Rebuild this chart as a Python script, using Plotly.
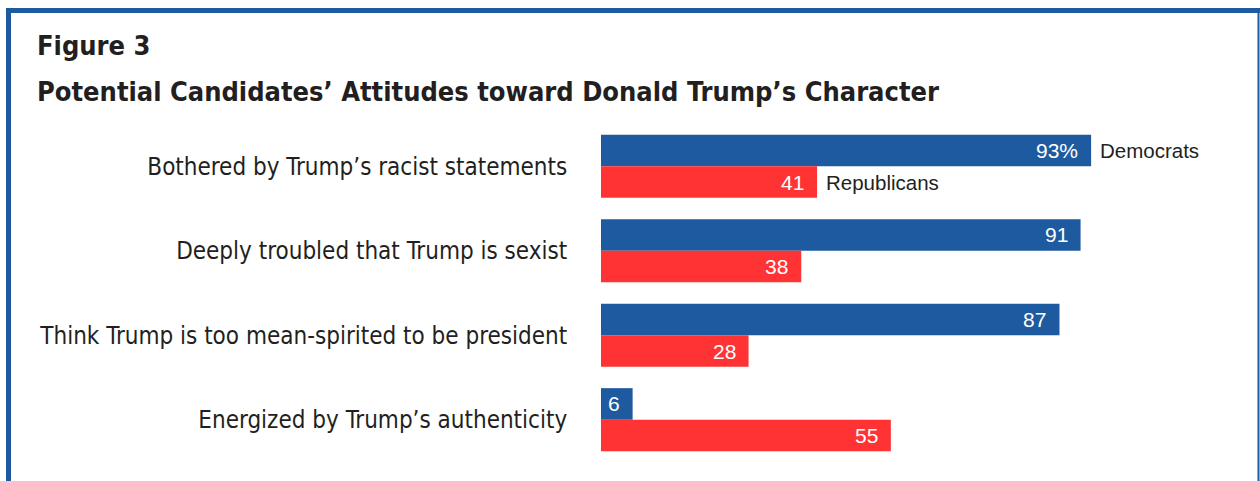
import plotly.graph_objects as go

# Survey items and shares (%) by party
categories = [
    "Bothered by Trump’s racist statements",
    "Deeply troubled that Trump is sexist",
    "Think Trump is too mean-spirited to be president",
    "Energized by Trump’s authenticity",
]
democrats = [93, 91, 87, 6]
republicans = [41, 38, 28, 55]
dem_labels = ["93%", "91", "87", "6"]
rep_labels = ["41", "38", "28", "55"]

title_line1 = "Figure 3"
title_line2 = "Potential Candidates’ Attitudes toward Donald Trump’s Character"

BLUE = "#1E5AA0"
RED = "#FF3333"
TEXT = "#231F20"
FONT = "Liberation Sans, Arial, sans-serif"
COND_FONT = "DejaVu Sans Condensed, DejaVu Sans, sans-serif"

W, H = 1260, 481
ML, MR, MT, MB = 601, 132, 124, 19
PW, PH = W - ML - MR, H - MT - MB


def px_x(p):
    return (p - ML) / PW


def px_y(p):
    return (H - MB - p) / PH


fig = go.Figure()
fig.add_trace(go.Bar(y=categories, x=democrats, orientation="h", name="Democrats",
                     marker=dict(color=BLUE, line=dict(width=0)), hoverinfo="skip"))
fig.add_trace(go.Bar(y=categories, x=republicans, orientation="h", name="Republicans",
                     marker=dict(color=RED, line=dict(width=0)), hoverinfo="skip"))

half = PH / len(categories) * (1 - 0.252) / 4

annotations = []
for cat, v, lab in zip(categories, democrats, dem_labels):
    annotations.append(dict(x=v, y=cat, xref="x", yref="y", text=lab, showarrow=False,
                            xanchor="right", yanchor="middle", xshift=-11, yshift=half,
                            font=dict(family=FONT, size=21, color="white")))
for cat, v, lab in zip(categories, republicans, rep_labels):
    annotations.append(dict(x=v, y=cat, xref="x", yref="y", text=lab, showarrow=False,
                            xanchor="right", yanchor="middle", xshift=-11, yshift=-half,
                            font=dict(family=FONT, size=21, color="white")))

# Series names beside the first pair of bars
annotations.append(dict(x=democrats[0], y=categories[0], xref="x", yref="y", text="Democrats",
                        showarrow=False, xanchor="left", yanchor="middle", xshift=7, yshift=half,
                        font=dict(family=FONT, size=20.5, color=TEXT)))
annotations.append(dict(x=republicans[0], y=categories[0], xref="x", yref="y", text="Republicans",
                        showarrow=False, xanchor="left", yanchor="middle", xshift=7, yshift=-half,
                        font=dict(family=FONT, size=20.5, color=TEXT)))

# Heading
annotations.append(dict(x=px_x(35), y=px_y(45), xref="paper", yref="paper", text=f"<b>{title_line1}</b>",
                        showarrow=False, xanchor="left", yanchor="middle",
                        font=dict(family=COND_FONT, size=27, color=TEXT)))
annotations.append(dict(x=px_x(35), y=px_y(91), xref="paper", yref="paper", text=f"<b>{title_line2}</b>",
                        showarrow=False, xanchor="left", yanchor="middle",
                        font=dict(family=COND_FONT, size=27, color=TEXT)))

# Frame: thick top and left rules, thin right rule
shapes = [
    dict(type="line", xref="paper", yref="paper", x0=px_x(6), x1=px_x(W + 5),
         y0=px_y(10.5), y1=px_y(10.5), line=dict(color=BLUE, width=5)),
    dict(type="line", xref="paper", yref="paper", x0=px_x(8.5), x1=px_x(8.5),
         y0=px_y(8), y1=px_y(H + 5), line=dict(color=BLUE, width=5)),
    dict(type="line", xref="paper", yref="paper", x0=px_x(1258.5), x1=px_x(1258.5),
         y0=px_y(8), y1=px_y(H + 5), line=dict(color=BLUE, width=2)),
]

fig.update_layout(
    width=W, height=H,
    margin=dict(l=ML, r=MR, t=MT, b=MB, autoexpand=False),
    paper_bgcolor="white", plot_bgcolor="white",
    barmode="group", bargap=0.252, bargroupgap=0,
    showlegend=False,
    annotations=annotations,
    shapes=shapes,
    xaxis=dict(range=[0, 100], showticklabels=False, showgrid=False, zeroline=False,
               showline=False, ticks="", automargin=False),
    yaxis=dict(autorange="reversed", showgrid=False, zeroline=False, showline=False,
               automargin=False,
               ticks="outside", ticklen=28, tickcolor="rgba(0,0,0,0)",
               tickfont=dict(family=COND_FONT, size=24, color=TEXT)),
)

fig.write_html("out.html")
